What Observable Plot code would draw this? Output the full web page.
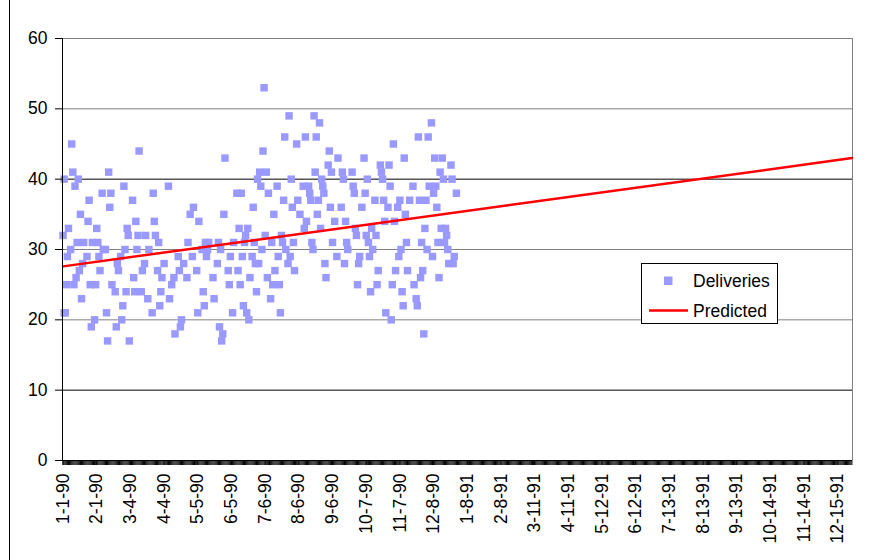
<!DOCTYPE html>
<html><head><meta charset="utf-8">
<script src="https://cdn.jsdelivr.net/npm/d3@7"></script>
<script src="https://cdn.jsdelivr.net/npm/@observablehq/plot@0.6"></script>
<style>
body{margin:0;background:#fff;}
#chart{position:relative;width:875px;height:560px;overflow:hidden;}
</style></head><body><div id="chart"></div>
<script>
// Day offsets from 1-1-90 of each delivery observation
const deliveryDay = [
  0,1,1,2,3,4,5,7,8,9,10,11,12,13,14,15,16,17,18,19,22,23,24,25,26,27,29,30,31,32,33,34,36,37,
  39,40,41,42,43,44,45,48,49,50,51,53,54,55,56,57,58,59,60,61,64,65,66,67,68,69,70,72,73,75,76,78,79,82,83,84,85,
  87,88,89,90,91,93,97,98,100,102,103,106,107,108,109,111,114,115,117,119,120,123,124,125,128,129,130,131,
  132,133,134,138,139,142,143,144,145,146,147,148,149,152,153,154,156,157,160,161,162,163,164,165,166,167,168,169,170,171,172,174,175,176,177,178,179,
  180,181,182,183,184,185,186,187,188,189,191,192,193,194,195,197,198,199,200,201,202,203,204,205,207,208,209,210,211,212,213,215,216,218,221,222,223,
  224,226,227,228,229,230,231,232,233,234,235,236,237,238,239,240,241,242,244,245,246,247,248,250,252,253,256,257,258,259,260,261,262,266,267,268,269,270,271,
  272,273,275,277,278,279,280,281,282,283,284,285,287,288,289,290,292,293,294,295,296,297,299,300,301,302,303,304,305,306,308,309,310,311,312,313,314,315,316,
  317,319,322,323,325,326,327,328,329,330,331,332,333,334,335,336,337,339,340,341,342,343,344,345,346,347,348,349,350,351,352,353,354,355,357,358,359,360,362
];
const deliveries = [
  32,40,21,21,25,29,33,30,45,41,25,39,26,31,40,27,35,23,28,31,29,34,37,25,19,31,20,25,33,31,29,27,38,30,
  30,21,17,41,36,38,25,24,19,28,27,29,20,22,39,30,24,33,32,17,37,26,24,34,30,32,44,24,27,28,32,23,30,21,38,34,32,
  27,31,22,24,26,28,39,23,25,26,18,29,27,19,20,28,26,31,35,29,36,27,21,34,30,24,22,31,
  29,30,31,26,23,28,31,19,30,17,18,35,43,27,25,29,21,31,38,27,33,25,38,29,22,31,32,21,33,20,26,29,36,31,28,24,40,
  28,41,39,30,44,53,32,41,26,38,23,31,25,35,27,39,29,25,21,32,31,37,46,30,28,49,29,40,36,31,27,45,37,35,39,33,46,
  34,39,38,37,31,30,49,41,46,35,37,48,33,40,39,38,28,26,42,44,36,41,31,34,29,43,36,41,40,28,34,31,30,41,39,38,33,32,25,
  28,29,36,43,38,32,40,31,29,24,33,30,37,32,25,27,42,41,40,37,34,21,36,42,39,20,25,45,34,27,36,29,37,30,24,22,43,35,31,
  27,37,39,25,23,22,46,37,26,31,27,18,33,37,30,46,39,48,29,38,43,39,36,31,26,41,33,43,40,31,33,32,30,28,42,40,28,29,38
];
// Predicted (trend) series: first and last category
const predictedDate = ["1-1-90", "12-28-91"];
const predicted = [27.6, 43.0];
// Category axis range and labels
const axisStart = "1-1-90";
const axisEnd = "12-28-91";
const xTickLabels = ["1-1-90","2-1-90","3-4-90","4-4-90","5-5-90","6-5-90","7-6-90","8-6-90","9-6-90","10-7-90","11-7-90","12-8-90",
  "1-8-91","2-8-91","3-11-91","4-11-91","5-12-91","6-12-91","7-13-91","8-13-91","9-13-91","10-14-91","11-14-91","12-15-91"];
const yTicks = [0,10,20,30,40,50,60];
const seriesNames = ["Deliveries", "Predicted"];

function dayOf(s){
  const [m,d,y] = s.split("-").map(Number);
  return Math.round((Date.UTC(1900+y, m-1, d) - Date.UTC(1990,0,1)) / 864e5);
}
const firstDay = dayOf(axisStart), lastDay = dayOf(axisEnd);
const xTickDays = xTickLabels.map(dayOf);
const allDays = d3.range(firstDay, lastDay + 1);
const pts = deliveryDay.map((d,i) => ({day: d, value: deliveries[i]}));
const pred = predictedDate.map((s,i) => ({day: dayOf(s), value: predicted[i]}));
const darkGrid = yTicks.filter(v => v === 10 || v === 40);
const lightGrid = yTicks.filter(v => v > 0 && !darkGrid.includes(v));

const FONT = "'Liberation Sans', Arial, sans-serif";
const FS = 17.5;
const plot = Plot.plot({
  width: 875, height: 560,
  marginLeft: 62, marginRight: 23, marginTop: 38, marginBottom: 100,
  style: {fontFamily: FONT, fontSize: FS + "px", background: "#fff", color: "#000"},
  x: {domain: [firstDay - 0.5, lastDay + 0.5]},
  y: {domain: [0, 60]},
  marks: [
    Plot.ruleY(lightGrid, {stroke: "#808080", strokeWidth: 1}),
    Plot.ruleY(darkGrid, {stroke: "#000", strokeWidth: 1}),
    Plot.ruleX([lastDay + 0.5], {stroke: "#808080", strokeWidth: 1}),
    Plot.dot(pts, {x: "day", y: "value", symbol: "square", r: 4.2, fill: "#9999ff", stroke: null}),
    Plot.line(pred, {x: "day", y: "value", stroke: "#ff0000", strokeWidth: 2.5}),
    Plot.axisY({ticks: yTicks, tickSize: 7, tickPadding: 8, label: null, fontSize: FS, stroke: "#000"}),
    Plot.axisX({ticks: allDays, tickSize: 5, tickFormat: () => "", label: null, stroke: "#000"}),
    Plot.axisX({ticks: xTickDays, tickSize: 5, tickPadding: 8, tickRotate: -90, label: null, fontSize: FS,
      tickFormat: d => xTickLabels[xTickDays.indexOf(d)], stroke: "#000"}),
    Plot.ruleX([firstDay - 0.5], {stroke: "#000", strokeWidth: 1}),
    Plot.ruleY([0], {stroke: "#000", strokeWidth: 1})
  ]
});
document.getElementById("chart").appendChild(plot);

const svg = d3.select(plot);
svg.selectAll("text").style("font-size", FS + "px");
svg.append("line").attr("x1", 9.5).attr("x2", 9.5).attr("y1", 0).attr("y2", 560).attr("stroke", "#000");
const lg = svg.append("g").attr("font-family", FONT).style("font-size", FS + "px").attr("text-anchor", "start");
lg.append("rect").attr("x", 641.5).attr("y", 263.5).attr("width", 136).attr("height", 60)
  .attr("fill", "#fff").attr("stroke", "#000");
lg.append("rect").attr("x", 664).attr("y", 276.5).attr("width", 8.5).attr("height", 8.5).attr("fill", "#9999ff");
lg.append("text").attr("x", 693).attr("y", 286.5).attr("fill", "#000").text(seriesNames[0]);
lg.append("line").attr("x1", 649).attr("x2", 688).attr("y1", 310.5).attr("y2", 310.5)
  .attr("stroke", "#ff0000").attr("stroke-width", 2.5);
lg.append("text").attr("x", 693).attr("y", 316.5).attr("fill", "#000").text(seriesNames[1]);
</script>
</body></html>
